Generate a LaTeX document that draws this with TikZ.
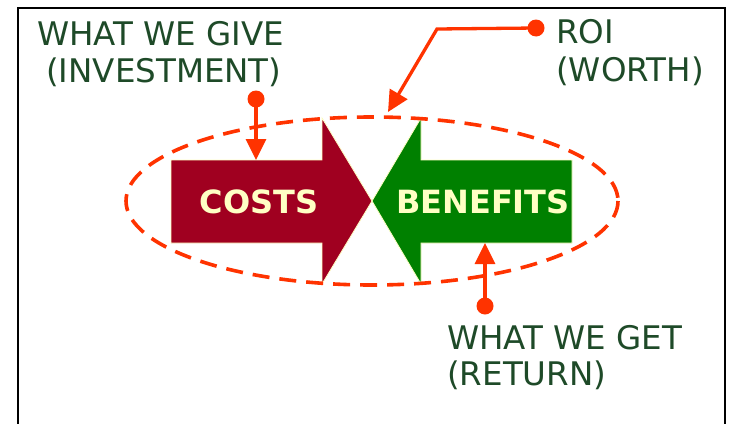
\documentclass[tikz,border=0pt]{standalone}
\usepackage{fontspec}
\setmainfont{DejaVu Sans}
\usetikzlibrary{arrows.meta}

\definecolor{costred}{RGB}{160,0,32}
\definecolor{benefitgreen}{RGB}{0,128,0}
\definecolor{cream}{RGB}{255,255,196}
\definecolor{pointerred}{RGB}{255,51,0}
\definecolor{labelgreen}{RGB}{30,74,40}

\tikzset{
  bigarrow/.style={draw=cream, line width=0.8pt},
  arrowlabel/.style={text=cream, font=\fontsize{32}{36}\selectfont\bfseries, inner sep=0pt},
  caption/.style={text=labelgreen, font=\fontsize{32.5}{38}\selectfont, inner sep=0pt, anchor=base west},
  dot/.style={circle, fill=pointerred, minimum size=17pt, inner sep=0pt},
  pointer/.style={draw=pointerred, line width=3.3pt, -{Triangle[length=21pt,width=20pt]}},
  roiring/.style={draw=pointerred, line width=3.6pt, dash pattern=on 17pt off 10pt}
}

\begin{document}
\begin{tikzpicture}[x=1pt,y=-1pt]
  \useasboundingbox (0,0) rectangle (730,423);
  \fill[white] (0,0) rectangle (730,423);

  % frame, open at the bottom
  \draw[line width=2pt] (18,430) -- (18,8) -- (725,8) -- (725,430);

  % costs arrow pointing right
  \filldraw[bigarrow, fill=costred]
    (171,160) -- (322,160) -- (322,118) -- (372,201) -- (322,284) -- (322,243) -- (171,243) -- cycle;
  % benefits arrow pointing left
  \filldraw[bigarrow, fill=benefitgreen]
    (572,160) -- (421,160) -- (421,118) -- (372,201) -- (421,284) -- (421,243) -- (572,243) -- cycle;

  \node[arrowlabel, anchor=base] (costs) at (259,213) {COSTS};
  \node[arrowlabel, anchor=base] (benefits) at (483,213) {BENEFITS};

  % ROI ring around both arrows
  \draw[roiring] (372,201) ellipse [x radius=246, y radius=84];

  % anchor points on the arrows and the ring
  \coordinate (costsTop) at (256,160);
  \coordinate (benefitsBottom) at (485,243);
  \coordinate (ringTop) at (388,112);
  \coordinate (roiBend) at (437,29);

  % captions
  \node[caption] (give1) at (37,45) {WHAT WE GIVE};
  \node[caption] (give2) at (46,82) {(INVESTMENT)};
  \node[caption] (roi1) at (556,43) {ROI};
  \node[caption] (roi2) at (556,81) {(WORTH)};
  \node[caption] (get1) at (447,349) {WHAT WE GET};
  \node[caption] (get2) at (447,385) {(RETURN)};

  % pointers
  \node[dot] (giveDot) at (256,99) {};
  \node[dot] (roiDot) at (536,28) {};
  \node[dot] (getDot) at (485,306) {};

  \draw[pointer] (giveDot.center) -- (costsTop);
  \draw[pointer] (getDot.center) -- (benefitsBottom);
  \draw[pointer] (roiDot.center) -- (roiBend) -- (ringTop);
\end{tikzpicture}
\end{document}
